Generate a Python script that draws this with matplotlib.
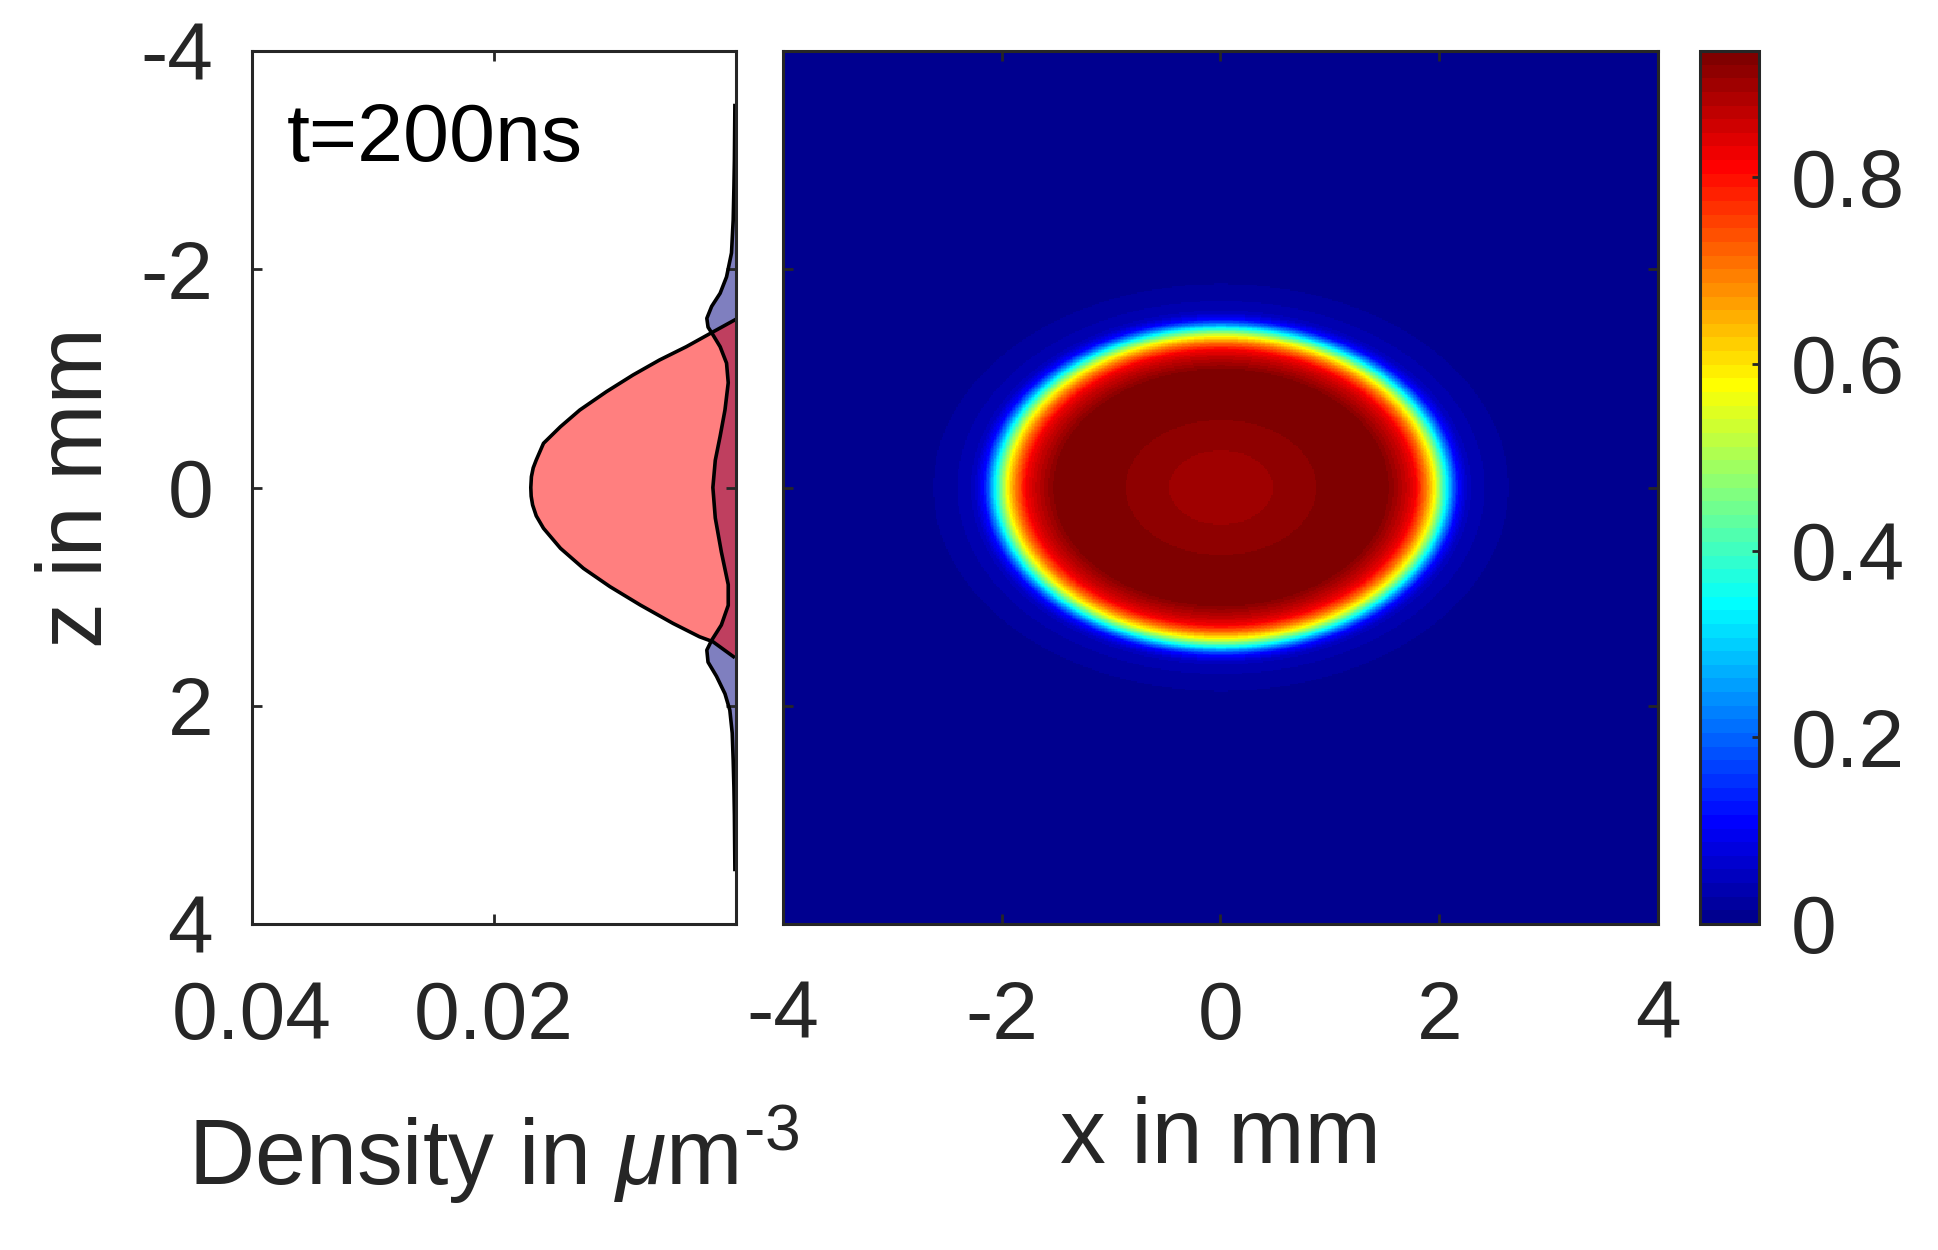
import numpy as np
import matplotlib
matplotlib.use("Agg")
import matplotlib.pyplot as plt
from matplotlib.colors import ListedColormap, Normalize

plt.rcParams['font.family'] = ['Liberation Sans', 'DejaVu Sans']
plt.rcParams['mathtext.fontset'] = 'custom'
plt.rcParams['mathtext.rm'] = 'Liberation Sans'
plt.rcParams['mathtext.it'] = 'Liberation Sans:italic'
plt.rcParams['axes.unicode_minus'] = False

# line density of the condensate along z (z in mm, density in um^-3)
z_bec = [-1.535, -1.419, -1.29, -1.169, -1.031, -0.878, -0.71, -0.557, -0.405,
         -0.252, -0.18, -0.099, 0.0, 0.08, 0.16, 0.26, 0.374, 0.557, 0.741, 0.909,
         1.077, 1.245, 1.368, 1.413, 1.55]
n_bec = [0.0001, 0.0020, 0.0041, 0.0063, 0.0085, 0.0107, 0.0129, 0.0145, 0.0159,
         0.0165, 0.01675, 0.0169, 0.01695, 0.01692, 0.0168, 0.0165, 0.0159, 0.0145,
         0.0126, 0.0104, 0.0079, 0.0052, 0.0030, 0.0019, 0.0002]

# thermal cloud
z_th = [-3.5, -3.0, -2.75, -2.45, -2.15, -1.93, -1.78, -1.66, -1.55, -1.47, -1.40,
        -1.29, -1.14, -0.96, -0.71, -0.47, -0.25, 0.0, 0.28, 0.59, 0.89, 1.08,
        1.26, 1.40, 1.49, 1.60, 1.73, 1.89, 2.04, 2.25, 2.50, 2.75, 3.0, 3.5]
n_th = [0.00008, 0.00012, 0.00016, 0.00022, 0.00036, 0.00077, 0.0013, 0.0020, 0.0024,
        0.0023, 0.0019, 0.0013, 0.00077, 0.00063, 0.0009, 0.0013, 0.0017, 0.0019,
        0.0017, 0.0012, 0.00063, 0.00063, 0.0012, 0.0020, 0.0024, 0.0023, 0.0016,
        0.0009, 0.0005, 0.0003, 0.00022, 0.00016, 0.00012, 0.00008]

# 2D image: value vs elliptical radius (x-equivalent, mm)
r_img = [0.0, 0.46, 0.49, 0.86, 0.89, 1.20, 1.52, 1.60, 1.70, 1.78, 1.875, 1.95,
         2.006, 2.06, 2.11, 2.17, 2.26, 2.40, 2.60, 2.75, 3.0, 6.0]
v_img = [0.896, 0.902, 0.909, 0.918, 0.924, 0.935, 0.926, 0.898, 0.860, 0.818, 0.701,
         0.584, 0.468, 0.351, 0.234, 0.117, 0.047, 0.030, 0.017, 0.005, 0.0, 0.0]
z_aspect = 0.71
vmax = 0.935


def matlab_jet(m=64):
    n = int(np.ceil(m / 4))
    u = np.concatenate([np.arange(1, n + 1) / n, np.ones(n - 1), np.arange(n, 0, -1) / n])
    g = int(np.ceil(n / 2)) - (1 if m % 4 == 1 else 0) + np.arange(1, len(u) + 1)
    r = g + n
    b = g - n
    g = g[g <= m]
    r = r[r <= m]
    b = b[b >= 1]
    J = np.zeros((m, 3))
    J[r - 1, 0] = u[:len(r)]
    J[g - 1, 1] = u[:len(g)]
    J[b - 1, 2] = u[len(u) - len(b):]
    return ListedColormap(J)


axc = (0.15, 0.15, 0.15)
tick_fs = 29.5
label_fs = 33

fig = plt.figure(figsize=(9.69, 6.25), dpi=200)
bottom, height = 0.2608, 0.6984
ax1 = fig.add_axes([0.1300, bottom, 0.2497, height])
ax2 = fig.add_axes([0.4040, bottom, 0.4515, height])
cax = fig.add_axes([0.8772, bottom, 0.0304, height])

# left panel: density profiles
ax1.fill_betweenx(z_th, 0, n_th, facecolor=(0, 0, 0.5, 0.5), edgecolor='none')
ax1.plot(n_th, z_th, color='k', lw=1.3)
ax1.fill_betweenx(z_bec, 0, n_bec, facecolor=(1, 0, 0, 0.5), edgecolor='none')
ax1.plot(n_bec, z_bec, color='k', lw=1.3)
ax1.set_xlim(0.04, 0)
ax1.set_ylim(4, -4)
ax1.set_xticks([0.04, 0.02])
ax1.set_xticklabels(['0.04', '0.02'])
ax1.set_yticks([-4, -2, 0, 2, 4])
ax1.set_yticklabels(['-4', '-2', '0', '2', '4'])
ax1.text(0.072, 0.874, 't=200ns', transform=ax1.transAxes, fontsize=29.7,
         color='k', ha='left', va='baseline')
ax1.set_xlabel(r'Density in $\mu$m$^{\text{-3}}$', fontsize=label_fs, color=axc)
ax1.xaxis.set_label_coords(0.5, -0.205)
ax1.set_ylabel('z in mm', fontsize=label_fs, color=axc)
ax1.yaxis.set_label_coords(-0.27, 0.5)

# right panel: 2D image
xg = np.linspace(-4, 4, 601)
zg = np.linspace(-4, 4, 601)
X, Z = np.meshgrid(xg, zg)
R = np.sqrt(X ** 2 + (Z / z_aspect) ** 2)
img = np.interp(R, r_img, v_img)
cmap = matlab_jet(64)
im = ax2.imshow(img, extent=[-4, 4, 4, -4], cmap=cmap, norm=Normalize(0, vmax),
                aspect='auto', interpolation='nearest')
ax2.set_xlim(-4, 4)
ax2.set_ylim(4, -4)
ax2.set_xticks([-4, -2, 0, 2, 4])
ax2.set_xticklabels(['-4', '-2', '0', '2', '4'])
ax2.set_yticks([-4, -2, 0, 2, 4])
ax2.set_yticklabels([])
ax2.set_xlabel('x in mm', fontsize=label_fs, color=axc)
ax2.xaxis.set_label_coords(0.5, -0.197)

for ax in (ax1, ax2):
    for sp in ax.spines.values():
        sp.set_color(axc)
        sp.set_linewidth(1.1)
    ax.tick_params(direction='in', length=3.6, width=1.0, color=axc,
                   labelcolor=axc, labelsize=tick_fs, top=True, right=True)
    ax.tick_params(axis='x', pad=20)
    ax.tick_params(axis='y', pad=14)

# colorbar
cb = fig.colorbar(im, cax=cax, ticks=[0, 0.2, 0.4, 0.6, 0.8])
cb.ax.set_yticklabels(['0', '0.2', '0.4', '0.6', '0.8'])
cb.outline.set_edgecolor(axc)
cb.outline.set_linewidth(1.1)
cb.ax.tick_params(direction='in', length=2.5, width=1.0, color=axc,
                  labelcolor=axc, labelsize=tick_fs, pad=11.5)

fig.savefig('out.png', dpi=200)
